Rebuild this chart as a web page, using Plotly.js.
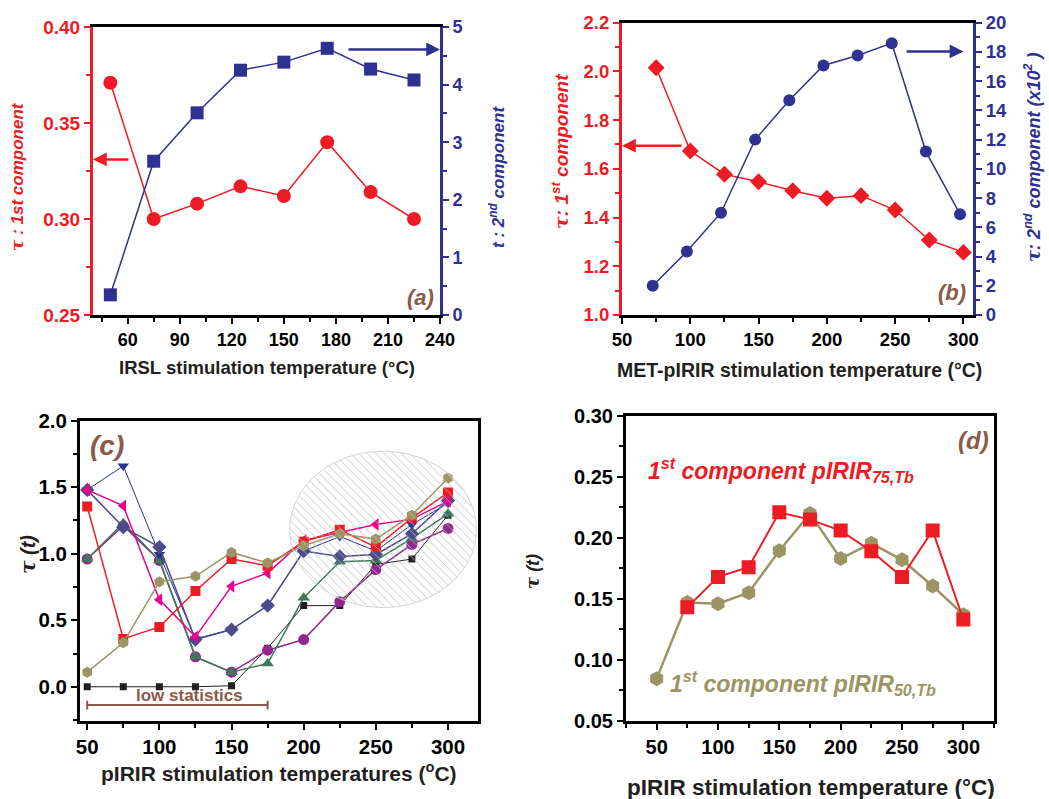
<!DOCTYPE html>
<html><head><meta charset="utf-8">
<script src="https://cdn.plot.ly/plotly-3.0.1.min.js"></script>
<style>html,body{margin:0;padding:0;background:#fff}#chart{width:1049px;height:799px}</style>
</head><body><div id="chart"></div>
<script>
// ---------- Panel (a) ----------
const aTemps = [50, 75, 100, 125, 150, 175, 200, 225];
const aTau1 = [0.371, 0.300, 0.308, 0.317, 0.312, 0.340, 0.314, 0.300];
const aTau2 = [0.35, 2.67, 3.51, 4.25, 4.39, 4.63, 4.27, 4.08];
// ---------- Panel (b) ----------
const bTemps1 = [75, 100, 125, 150, 175, 200, 225, 250, 275, 300];
const bTau1 = [2.015, 1.673, 1.578, 1.547, 1.510, 1.479, 1.490, 1.431, 1.308, 1.257];
const bTemps2 = [72.5, 97.5, 122.5, 147.5, 172.5, 197.5, 222.5, 247.5, 272.5, 297.5];
const bTau2 = [2.0, 4.34, 7.0, 12.0, 14.7, 17.07, 17.76, 18.6, 11.18, 6.9];
// ---------- Panel (c) ----------
const cTemps = [50, 75, 100, 125, 150, 175, 200, 225, 250, 275, 300];
const cBlack = [0, 0, 0, 0, 0.008, 0.29, 0.61, 0.61, 0.92, 0.96, 1.29];
const cRed = [1.355, 0.36, 0.45, 0.72, 0.96, 0.91, 1.09, 1.18, 1.05, 1.27, 1.46];
const cOlive = [0.11, 0.33, 0.79, 0.83, 1.01, 0.93, 1.06, 1.15, 1.11, 1.29, 1.57];
const cMagenta = [1.48, 1.36, 0.655, 0.375, 0.755, 0.855, 1.10, 1.16, 1.22, 1.26, 1.395];
const cSlate = [1.48, 1.20, 1.05, 0.355, 0.43, 0.61, 1.02, 0.98, 0.995, 1.15, 1.40];
const cNavy = [1.48, 1.66, 0.995, 0.36, 0.43, 0.61, 1.02, 1.13, 1.02, 1.22, 1.38];
const cGreen = [0.96, 1.23, 0.95, 0.225, 0.11, 0.175, 0.67, 0.94, 0.95, 1.115, 1.30];
const cPurple = [0.96, 1.21, 0.95, 0.225, 0.11, 0.275, 0.355, 0.64, 0.88, 1.07, 1.19];
// ---------- Panel (d) ----------
const dTemps75 = [75, 100, 125, 150, 175, 200, 225, 250, 275, 300];
const dTau75 = [0.143, 0.168, 0.176, 0.221, 0.215, 0.206, 0.189, 0.168, 0.206, 0.133];
const dTemps50 = [50, 75, 100, 125, 150, 175, 200, 225, 250, 275, 300];
const dTau50 = [0.0845, 0.147, 0.146, 0.155, 0.1895, 0.220, 0.183, 0.1955, 0.182, 0.1605, 0.137];

const RED = '#ed1c24', BLUE = '#2e3192', BROWN = '#8c5a48', OLIVE = '#9b9563',
      MAG = '#ec008c', SLATE = '#4b4b8c', NAVY = '#27308f', GREEN = '#3f7a5c',
      PURPLE = '#92278f', BLACK = '#231f20';
const FONT = 'Liberation Sans, Arial, sans-serif';
const W = 1049, H = 799;
const px = v => v / W, py = v => 1 - v / H;

function axis(o) {
  const c = o.color || '#000';
  return Object.assign({
    showline: true, linewidth: 3, linecolor: c, ticks: 'outside', ticklen: 6, tickwidth: 2,
    tickcolor: c, tickfont: {family: FONT, size: o.fs || 18, color: c, weight: 'bold'},
    showgrid: false, zeroline: false, fixedrange: true,
    minor: {ticks: 'outside', ticklen: 4, tickwidth: 2, tickcolor: c, dtick: o.mdtick, tick0: o.tick0 || 0}
  }, o.extra);
}

function line(x, y, xa, ya, color, symbol, size, width, name) {
  return {x: x, y: y, xaxis: xa, yaxis: ya, type: 'scatter', mode: 'lines+markers', name: name,
    line: {color: color, width: width || 1.5},
    marker: {color: color, symbol: symbol, size: size, line: {width: 0}}, hoverinfo: 'x+y'};
}

// hatched ellipse (decoration) in panel (c)
const ell = {cx: 255, rx: 64.7, cy: 1.183, ry: 0.588};
const ex = [], ey = [];
for (let i = 0; i <= 120; i++) { const t = 2 * Math.PI * i / 120; ex.push(ell.cx + ell.rx * Math.cos(t)); ey.push(ell.cy + ell.ry * Math.sin(t)); }

const data = [
  line(aTemps, aTau1, 'x', 'y', RED, 'circle', 14, 1.5, 'τ 1st'),
  line(aTemps, aTau2, 'x', 'y2', BLUE, 'square', 13, 1.5, 't 2nd'),
  line(bTemps1, bTau1, 'x2', 'y3', RED, 'diamond', 13, 1.5, 'τ 1st'),
  line(bTemps2, bTau2, 'x2', 'y4', BLUE, 'circle', 12, 1.5, 'τ 2nd'),
  line(cTemps, cBlack, 'x3', 'y5', BLACK, 'square', 7, 1, 'black'),
  line(cTemps, cPurple, 'x3', 'y5', PURPLE, 'circle', 11, 1.5, 'purple'),
  line(cTemps, cGreen, 'x3', 'y5', GREEN, 'triangle-up', 11, 1.5, 'green'),
  line(cTemps, cNavy, 'x3', 'y5', NAVY, 'triangle-down', 10, 1, 'navy'),
  line(cTemps, cSlate, 'x3', 'y5', SLATE, 'diamond', 11, 1.5, 'slate'),
  line(cTemps, cMagenta, 'x3', 'y5', MAG, 'triangle-left', 11, 1.5, 'magenta'),
  line(cTemps, cRed, 'x3', 'y5', RED, 'square', 10, 1.5, 'red'),
  line(cTemps, cOlive, 'x3', 'y5', OLIVE, 'hexagon', 11, 1.5, 'olive'),
  {x: ex, y: ey, xaxis: 'x3', yaxis: 'y5', type: 'scatter', mode: 'lines', fill: 'toself',
   line: {color: '#cfcfcf', width: 1}, fillcolor: 'rgba(0,0,0,0)',
   fillpattern: {shape: '\\', fgcolor: '#bdbdbd', size: 6, solidity: 0.14}, hoverinfo: 'skip', opacity: 0.9},
  line(dTemps50, dTau50, 'x4', 'y6', OLIVE, 'hexagon', 15, 2.5, 'pIRIR50'),
  line(dTemps75, dTau75, 'x4', 'y6', RED, 'square', 14, 2, 'pIRIR75')
];

function ann(x, y, text, size, color, extra) {
  return Object.assign({xref: 'paper', yref: 'paper', x: px(x), y: py(y), text: text, showarrow: false,
    xanchor: 'center', yanchor: 'middle', font: {family: FONT, size: size, color: color, weight: 'bold'}}, extra || {});
}
function arrow(xr, yr, x, y, ax, color) {
  return {xref: xr, yref: yr, axref: xr, ayref: yr, x: x, y: y, ax: ax, ay: y, text: '', showarrow: true,
    arrowhead: 2, arrowsize: 1.1, arrowwidth: 2.5, arrowcolor: color, standoff: 0};
}
const TAU = '<span style="font-family:DejaVu Serif, serif">τ</span>';

const annotations = [
  // panel (a)
  ann(17, 177, '<i>' + TAU + ' : 1st component</i>', 17, RED, {textangle: -90}),
  ann(497, 177, '<i>t : 2<sup>nd</sup> component</i>', 17, BLUE, {textangle: -90}),
  ann(267, 368, 'IRSL stimulation temperature (°C)', 18.5, '#231f20'),
  ann(420, 297, '<i>(a)</i>', 22, BROWN),
  arrow('x', 'y', 40, 0.331, 61.3, RED),
  arrow('x', 'y2', 240, 4.61, 186.4, BLUE),
  // panel (b)
  ann(560, 152, '<i>' + TAU + ': 1<sup>st</sup> component</i>', 19, RED, {textangle: -90}),
  ann(1032, 157, '<i>' + TAU + ': 2<sup>nd</sup> component (x10<sup>2</sup> )</i>', 18, BLUE, {textangle: -90}),
  ann(799, 370, 'MET-pIRIR stimulation temperature (°C)', 19.5, '#231f20'),
  ann(952, 293, '<i>(b)</i>', 22, BROWN),
  arrow('x2', 'y3', 50, 1.695, 94.7, RED),
  arrow('x2', 'y4', 300, 18.03, 257.3, BLUE),
  // panel (c)
  ann(28, 555, '<i>' + TAU + ' (t)</i>', 20, '#231f20', {textangle: -90}),
  ann(279, 772, 'pIRIR stimulation temperatures (<sup>o</sup>C)', 21, '#231f20'),
  ann(107, 445, '<i>(c)</i>', 28, BROWN),
  {xref: 'x3', yref: 'y5', x: 121, y: -0.065, text: 'low statistics', showarrow: false,
   font: {family: FONT, size: 17, color: BROWN, weight: 'bold'}},
  // panel (d)
  ann(532, 572, '<i>' + TAU + ' (t)</i>', 18, '#231f20', {textangle: -90}),
  ann(811, 787, 'pIRIR stimulation temperature (°C)', 22.5, '#231f20'),
  ann(973, 440, '<i>(d)</i>', 24, BROWN),
  ann(781, 470, '<i>1<sup>st</sup> component pIRIR<sub>75,Tb</sub></i>', 23, RED),
  ann(803, 683, '<i>1<sup>st</sup> component pIRIR<sub>50,Tb</sub></i>', 23, OLIVE)
];

const shapes = [
  {type: 'line', xref: 'x3', yref: 'y5', x0: 50, x1: 175, y0: -0.137, y1: -0.137, line: {color: BROWN, width: 2}},
  {type: 'line', xref: 'x3', yref: 'y5', x0: 50, x1: 50, y0: -0.17, y1: -0.105, line: {color: BROWN, width: 2}},
  {type: 'line', xref: 'x3', yref: 'y5', x0: 175, x1: 175, y0: -0.17, y1: -0.105, line: {color: BROWN, width: 2}}
];

const layout = {
  width: W, height: H, margin: {l: 0, r: 0, t: 0, b: 0}, showlegend: false,
  paper_bgcolor: '#fff', plot_bgcolor: 'rgba(0,0,0,0)', font: {family: FONT},
  xaxis: axis({mdtick: 15, extra: {domain: [px(93), px(440)], range: [40, 240], dtick: 30, tick0: 0, anchor: 'y', mirror: true}}),
  yaxis: axis({color: RED, mdtick: 0.025, fs: 19, extra: {domain: [py(315), py(27)], range: [0.25, 0.40], dtick: 0.05, tick0: 0, tickformat: '.2f', anchor: 'x'}}),
  yaxis2: axis({color: BLUE, mdtick: 0.5, extra: {overlaying: 'y', side: 'right', range: [0, 5], dtick: 1, tick0: 0, anchor: 'x'}}),
  xaxis2: axis({mdtick: 25, fs: 18.5, extra: {domain: [px(622), px(973)], range: [50, 307], dtick: 50, tick0: 0, anchor: 'y3', mirror: true}}),
  yaxis3: axis({color: RED, mdtick: 0.1, fs: 18.5, extra: {domain: [py(315), py(22.7)], range: [1.0, 2.2], dtick: 0.2, tick0: 0, tickformat: '.1f', anchor: 'x2'}}),
  yaxis4: axis({color: BLUE, mdtick: 1, fs: 18.5, extra: {overlaying: 'y3', side: 'right', range: [0, 20], dtick: 2, tick0: 0, anchor: 'x2'}}),
  xaxis3: axis({mdtick: 25, fs: 20.5, extra: {domain: [px(80), px(478.3)], range: [45, 321], dtick: 50, tick0: 0, anchor: 'y5', mirror: true}}),
  yaxis5: axis({mdtick: 0.25, fs: 20.5, extra: {domain: [py(720.7), py(420.7)], range: [-0.255, 2.0], dtick: 0.5, tick0: 0, tickformat: '.1f', anchor: 'x3', mirror: true}}),
  xaxis4: axis({mdtick: 25, fs: 20, extra: {domain: [px(626), px(994)], range: [25, 325], dtick: 50, tick0: 0, anchor: 'y6', mirror: true}}),
  yaxis6: axis({mdtick: 0.025, fs: 20, extra: {domain: [py(720.7), py(416)], range: [0.05, 0.30], dtick: 0.05, tick0: 0, tickformat: '.2f', anchor: 'x4', mirror: true}}),
  annotations: annotations, shapes: shapes
};

Plotly.newPlot('chart', data, layout, {displayModeBar: false, staticPlot: true});
</script></body></html>
